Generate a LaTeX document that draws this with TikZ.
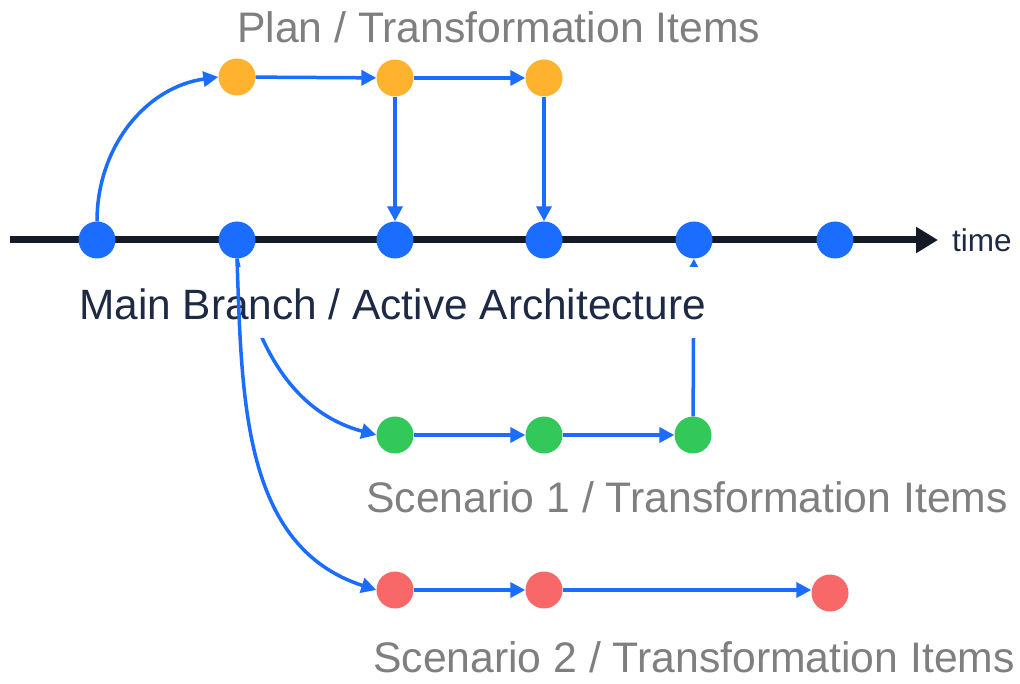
\documentclass[tikz,border=0pt]{standalone}
\usepackage{fontspec}
\setmainfont{Liberation Sans}
\usetikzlibrary{arrows.meta}
\definecolor{cblue}{HTML}{1A6DFF}
\definecolor{corange}{HTML}{FFB22E}
\definecolor{cgreen}{HTML}{33C95A}
\definecolor{cred}{HTML}{F96868}
\definecolor{cgray}{HTML}{7F7F7F}
\definecolor{cnavy}{HTML}{1E2A45}
\definecolor{cline}{HTML}{141A26}
\tikzset{
  dot/.style={circle,minimum size=37pt,inner sep=0pt,draw=none},
  bdot/.style={dot,fill=cblue},
  odot/.style={dot,fill=corange},
  gdot/.style={dot,fill=cgreen},
  rdot/.style={dot,fill=cred},
  flow/.style={draw=cblue,line width=3.5pt,-{Triangle[length=15pt,width=15pt]}},
  lbl/.style={anchor=base west,inner sep=0pt,font=\fontsize{42.7}{50}\selectfont},
}
\begin{document}
\begin{tikzpicture}[x=1pt,y=-1pt]
\useasboundingbox[fill=white] (0,0) rectangle (1020,684);
\coordinate (tstart) at (10,240);
\coordinate (tend) at (938,240);
\draw[cline,line width=7pt,-{Triangle[length=22pt,width=25pt]}] (tstart) -- (tend);
\node[anchor=base west,inner sep=0pt,text=cnavy,font=\fontsize{31.5}{36}\selectfont] (time) at (952,252) {time};
% main branch
\node[bdot] (m1) at (97,240) {};
\node[bdot] (m2) at (237,240) {};
\node[bdot] (m3) at (395,240) {};
\node[bdot] (m4) at (544,240) {};
\node[bdot] (m5) at (694,240) {};
\node[bdot] (m6) at (835,240) {};
% plan
\node[odot] (p1) at (237,77) {};
\node[odot] (p2) at (395,78) {};
\node[odot] (p3) at (544,78) {};
% scenario 1
\node[gdot] (g1) at (395,435) {};
\node[gdot] (g2) at (544,435) {};
\node[gdot] (g3) at (693,435) {};
% scenario 2
\node[rdot] (r1) at (395,590) {};
\node[rdot] (r2) at (544,590) {};
\node[rdot] (r3) at (830,593) {};
% connectors
\draw[flow] (m1.north) to[out=90,in=188] (p1.west);
\draw[flow] (p1) -- (p2);
\draw[flow] (p2) -- (p3);
\draw[flow] (p2) -- (m3);
\draw[flow] (p3) -- (m4);
\draw[flow] (g1) -- (g2);
\draw[flow] (g2) -- (g3);
\draw[flow] (g3) -- (m5);
\draw[flow] (r1) -- (r2);
\draw[flow] (r2.east) -- (r3.west |- r2.east);
\draw[flow] (m2.south) to[out=-78,in=165] (g1.west);
% labels
\node[lbl,text=cgray] (plan) at (237,43) {Plan / Transformation Items};
\node[lbl,font=\fontsize{42.4}{50}\selectfont,text=cnavy,fill=white,text height=53pt,text depth=18pt,inner xsep=4pt] (main) at (75,320) {Main Branch / Active Architecture};
\node[lbl,text=cgray] (s1) at (366,512) {Scenario 1 / Transformation Items};
\node[lbl,text=cgray] (s2) at (373,672) {Scenario 2 / Transformation Items};
\draw[flow] (m2.south) to[out=-88,in=162] (r1.west);
\end{tikzpicture}
\end{document}
